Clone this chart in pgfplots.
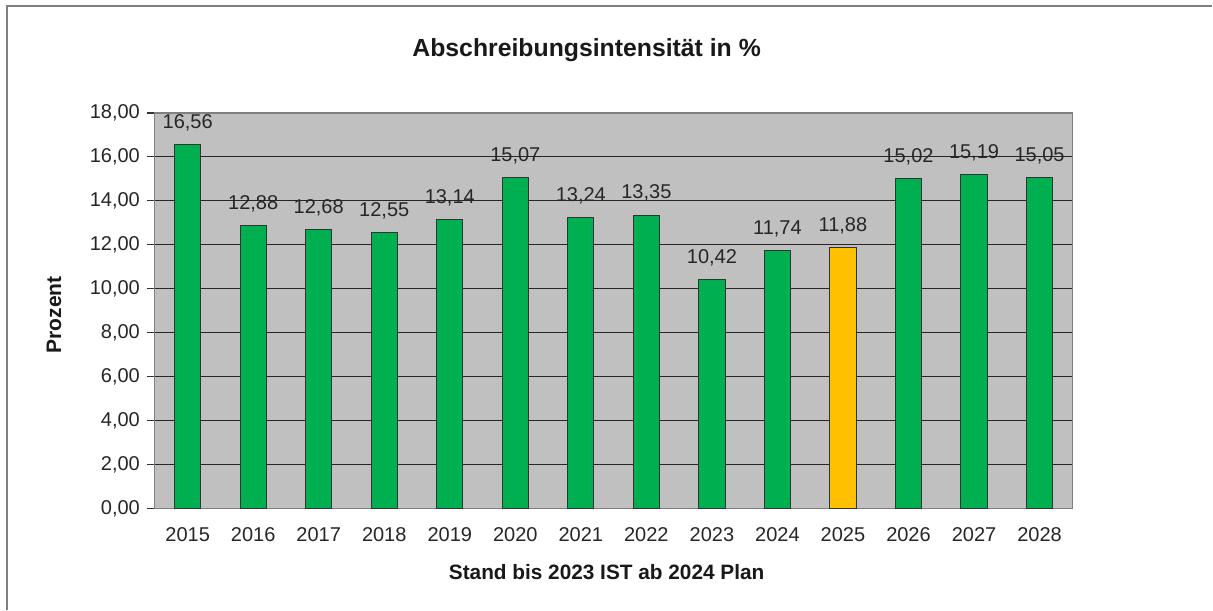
\documentclass[border=0pt]{standalone}
\usepackage{pgfplots}
\pgfplotsset{compat=1.18}
\usepackage{fontspec}
\setmainfont{Liberation Sans}
\definecolor{bargreen}{HTML}{00B050}
\definecolor{baryellow}{HTML}{FFC000}
\definecolor{plotgray}{HTML}{C0C0C0}
\definecolor{framegray}{HTML}{808080}
\begin{document}
\begin{tikzpicture}[x=1pt,y=1pt]
\path[fill=white] (0,0) rectangle (606.5,305);
\draw[framegray, line width=0.8pt] (3.5,0) -- (3.5,302) -- (606.5,302);
\begin{axis}[
  at={(77.5pt,50.5pt)}, anchor=south west,
  scale only axis, width=459pt, height=198pt,
  xmin=-0.5, xmax=13.5, ymin=0, ymax=18,
  axis background/.style={fill=plotgray},
  axis line style={draw=framegray, line width=0.6pt},
  ytick={0,2,...,18},
  ymajorgrids, grid style={draw=black!85, line width=0.5pt},
  xtick={0,...,13},
  xticklabels={2015,2016,2017,2018,2019,2020,2021,2022,2023,2024,2025,2026,2027,2028},
  major x tick style={draw=none},
  extra x ticks={-0.5,0.5,...,13.5},
  extra x tick labels={},
  extra x tick style={major tick length=4pt, tick align=outside, tick style={draw=black!80, line width=0.6pt}, grid=none},
  ytick align=outside, major tick length=4pt,
  tick style={draw=black!80, line width=0.6pt},
  xtick pos=bottom, ytick pos=left,
  /pgf/number format/.cd, use comma, fixed, fixed zerofill, precision=2, assume math mode=true,
  /pgfplots/.cd,
  tick label style={font=\fontsize{10pt}{12pt}\selectfont, text=black!85},
  xticklabel style={yshift=-2pt},
  bar width=0.4, ybar, bar shift=0pt,
  nodes near coords,
  nodes near coords style={font=\fontsize{10pt}{12pt}\selectfont, text=black!85, anchor=center, yshift=11pt, /pgf/number format/.cd, use comma, fixed, fixed zerofill, precision=2, assume math mode=true},
]
\addplot[fill=bargreen, draw=black!80, line width=0.5pt] coordinates {
 (0,16.56) (1,12.88) (2,12.68) (3,12.55) (4,13.14) (5,15.07) (6,13.24)
 (7,13.35) (8,10.42) (9,11.74) (11,15.02) (12,15.19) (13,15.05)};
\addplot[fill=baryellow, draw=black!80, line width=0.5pt] coordinates {(10,11.88)};
\end{axis}
\node[font=\bfseries\fontsize{12.4pt}{14pt}\selectfont, text=black!90] at (293.5,280) {Abschreibungsintensität in \%};
\node[font=\bfseries\fontsize{10.4pt}{12pt}\selectfont, text=black!90] at (303.5,19) {Stand bis 2023 IST ab 2024 Plan};
\node[font=\bfseries\fontsize{10.5pt}{12pt}\selectfont, text=black!90, rotate=90] at (27,147.5) {Prozent};
\end{tikzpicture}
\end{document}
